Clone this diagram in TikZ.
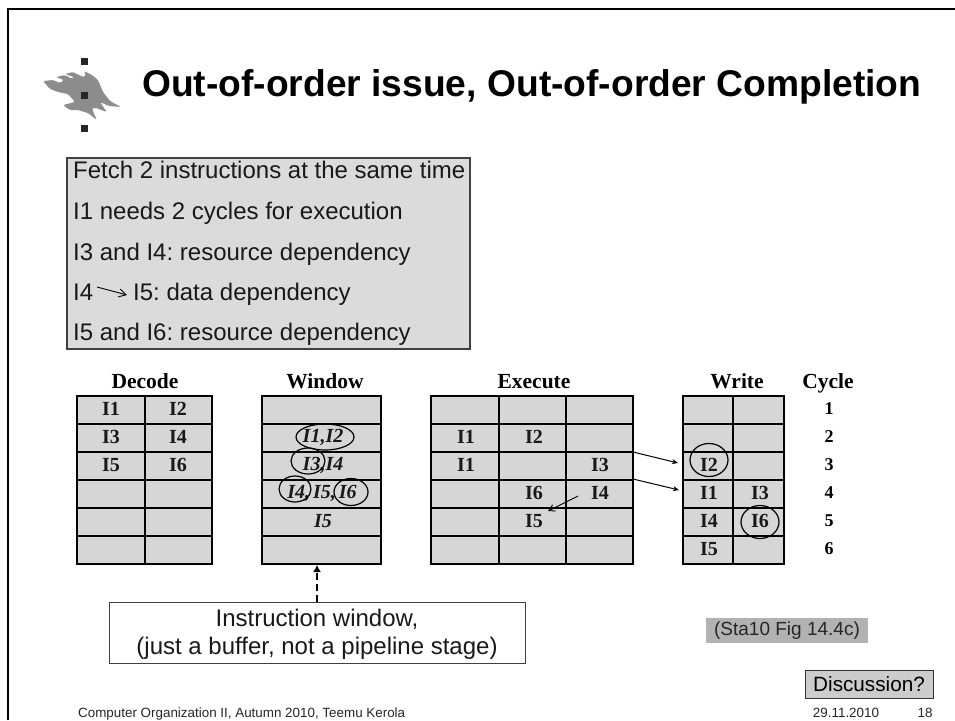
\documentclass[tikz,border=0pt]{standalone}
\usepackage{fontspec}
\setmainfont{Liberation Sans}
\newfontfamily\serf{Liberation Serif}
\usetikzlibrary{arrows.meta,shapes.geometric}
\definecolor{cellgray}{gray}{0.84}
\definecolor{boxgray}{gray}{0.86}
\frenchspacing
\tikzset{
 x=1pt,y=-1pt,
 gridline/.style={draw=black,line width=1.6pt},
 celltxt/.style={font=\serf\bfseries\fontsize{20}{20}\selectfont,inner sep=0pt,text=black!90},
 celltxtit/.style={font=\serf\bfseries\itshape\fontsize{20}{20}\selectfont,inner sep=0pt,text=black!90},
 head/.style={font=\serf\bfseries\fontsize{21.5}{22}\selectfont,inner sep=0pt,anchor=base},
 cyc/.style={font=\serf\bfseries\fontsize{18}{18}\selectfont,inner sep=0pt},
 ring/.style={ellipse,draw=black,line width=1.2pt,minimum width=#1,inner sep=0pt},
 infoline/.style={font=\fontsize{24}{26}\selectfont,anchor=base west,inner sep=0pt,text=black!90},
 arr/.style={draw=black,line width=1pt,-{Stealth[length=6pt,width=5pt]}},
 foot/.style={font=\fontsize{13.4}{14}\selectfont,anchor=base,inner sep=0pt,text=black!85},
}
\newcommand{\gridbox}[3]{%
 \fill[cellgray] (#1,396) rectangle (#2,564);
 \foreach \yy in {424,452,480,508,536} \draw[black,line width=1.3pt] (#1,\yy) -- (#2,\yy);
 \foreach \xx in {#3} \draw[black,line width=1.3pt] (\xx,396) -- (\xx,564);
 \draw[gridline] (#1,396) rectangle (#2,564);
}
\begin{document}
\begin{tikzpicture}
\useasboundingbox (0,0) rectangle (955,720);
\fill[white] (0,0) rectangle (955,720);
\draw[black,line width=2pt] (8,720) -- (8,9) -- (955,9);
% logo
\fill[black!45,rounded corners=1.5pt] (43,81) -- (53,80) -- (60,83) -- (64,80) -- (56,77) -- (65,75) -- (72,79) -- (74,77) -- (65,74)
 -- (73,72) -- (83,77) -- (86,76) -- (84,71) -- (92,75) -- (98,80) -- (103,92) -- (110,101) -- (121,107)
 -- (109,106) -- (100,102) -- (104,108) -- (107,112) -- (96,108) -- (92,108) -- (94,114) -- (97,120)
 -- (88,113) -- (78,110) -- (70,110) -- (63,105) -- (75,102) -- (68,94) -- (58,92) -- (50,89) -- cycle;
\fill[black!85] (80.5,58) rectangle (87.5,65);
\fill[black!85] (80.5,92) rectangle (87.5,99);
\fill[black!85] (80.5,125) rectangle (87.5,132);
% title
\node[font=\bfseries\fontsize{37.2}{40}\selectfont,anchor=base west,inner sep=0pt] (title) at (142,96) {Out-of-order issue, Out-of-order Completion};
% info box
\draw[fill=boxgray,draw=black!75,line width=1.2pt] (67,158) rectangle (470,349);
\node[infoline] (l1) at (73,178) {Fetch 2 instructions at the same time};
\node[infoline] (l2) at (73,219) {I1 needs 2 cycles for execution};
\node[infoline] (l3) at (73,260) {I3 and I4: resource dependency};
\node[infoline] (l4a) at (73,300) {I4};
\node[infoline] (l4b) at (133,300) {I5: data dependency};
\node[infoline] (l5) at (73,340) {I5 and I6: resource dependency};
\coordinate (ia) at (97,287); \coordinate (ib) at (127,295);
\draw[black,line width=0.9pt,-{Straight Barb[length=7pt,width=8pt]}] (ia) -- (ib);
% headers
\node[head] (hd) at (145,388) {Decode};
\node[head] (hw) at (325,388) {Window};
\node[head] (he) at (534,388) {Execute};
\node[head] (hr) at (737,388) {Write};
\node[head] (hc) at (828,388) {Cycle};
% grids
\gridbox{77}{212}{145}
\gridbox{262}{381}{}
\gridbox{431}{633}{499,566}
\gridbox{683}{784}{733}
% decode cells
\node[celltxt] (d1) at (111,409) {I1}; \node[celltxt] (d2) at (178,409) {I2};
\node[celltxt] (d3) at (111,437) {I3}; \node[celltxt] (d4) at (178,437) {I4};
\node[celltxt] (d5) at (111,465) {I5}; \node[celltxt] (d6) at (178,465) {I6};
% window cells
\node[celltxtit] (w1) at (323,437) {I1,I2};
\node[celltxtit] (w2) at (323,465) {I3,I4};
\node[celltxtit] (w3) at (322,493) {I4,\kern3pt I5,\kern3pt I6};
\node[celltxtit] (w4) at (323,521) {I5};
\node[ring=58pt,minimum height=26pt] (c1) at (325,437) {};
\node[ring=34pt,minimum height=26pt] (c2) at (308,461) {};
\node[ring=32pt,minimum height=26pt] (c3) at (295,489) {};
\node[ring=34pt,minimum height=27pt] (c4) at (351,492) {};
% execute cells
\node[celltxt] (e1) at (466,437) {I1}; \node[celltxt] (e2) at (534,437) {I2};
\node[celltxt] (e3) at (466,465) {I1}; \node[celltxt] (e4) at (600,465) {I3};
\node[celltxt] (e5) at (534,493) {I6}; \node[celltxt] (e6) at (600,493) {I4};
\node[celltxt] (e7) at (534,521) {I5};
% write cells
\node[celltxt] (r1) at (709,465) {I2};
\node[celltxt] (r2) at (709,493) {I1}; \node[celltxt] (r3) at (760,493) {I3};
\node[celltxt] (r4) at (709,521) {I4}; \node[celltxt] (r5) at (760,521) {I6};
\node[celltxt] (r6) at (709,549) {I5};
\node[ring=38pt,minimum height=33pt] (c5) at (709,460) {};
\node[ring=38pt,minimum height=33pt] (c6) at (760,522) {};
% cycles
\node[cyc] (y1) at (829,409) {1};
\node[cyc] (y2) at (829,437) {2};
\node[cyc] (y3) at (829,465) {3};
\node[cyc] (y4) at (829,493) {4};
\node[cyc] (y5) at (829,521) {5};
\node[cyc] (y6) at (829,549) {6};
% arrows
\coordinate (a1) at (633,452); \coordinate (a1e) at (678,463);
\coordinate (a2) at (633,479); \coordinate (a2e) at (679,490);
\coordinate (a3) at (578,496); \coordinate (a3e) at (548,511);
\draw[arr] (a1) -- (a1e);
\draw[arr] (a2) -- (a2e);
\draw[black,line width=0.9pt,-{Straight Barb[length=6pt,width=7pt]}] (a3) -- (a3e);
% instruction window
\node[draw=black!75,fill=white,line width=1pt,minimum width=416pt,minimum height=61pt,inner sep=0pt] (iw) at (317,632.5) {};
\node[inner sep=0pt,align=center,font=\fontsize{24}{28.5}\selectfont,text=black!90] (iwt) at (317,634.5) {Instruction window,\\(just a buffer, not a pipeline stage)};
\coordinate (wt) at (317,565);
\draw[black,line width=1.5pt,dash pattern=on 7pt off 4pt,-{Latex[length=7pt,width=8pt]}] (iw.north -| wt) -- (wt);
% refs
\node[fill=black!30,minimum width=162pt,minimum height=25pt,inner sep=0pt,font=\fontsize{19}{20}\selectfont,text=black!85] (sta) at (787,630.5) {(Sta10 Fig 14.4c)};
\node[draw=black!80,fill=black!20,line width=0.8pt,minimum width=128pt,minimum height=28pt,inner sep=0pt,font=\fontsize{20.7}{22}\selectfont] (dis) at (869,684.5) {Discussion?};
% footer
\node[foot,anchor=base west] (f1) at (78,717) {Computer Organization II, Autumn 2010, Teemu Kerola};
\node[foot] (f2) at (846,717) {29.11.2010};
\node[foot] (f3) at (925,717) {18};
\end{tikzpicture}
\end{document}
